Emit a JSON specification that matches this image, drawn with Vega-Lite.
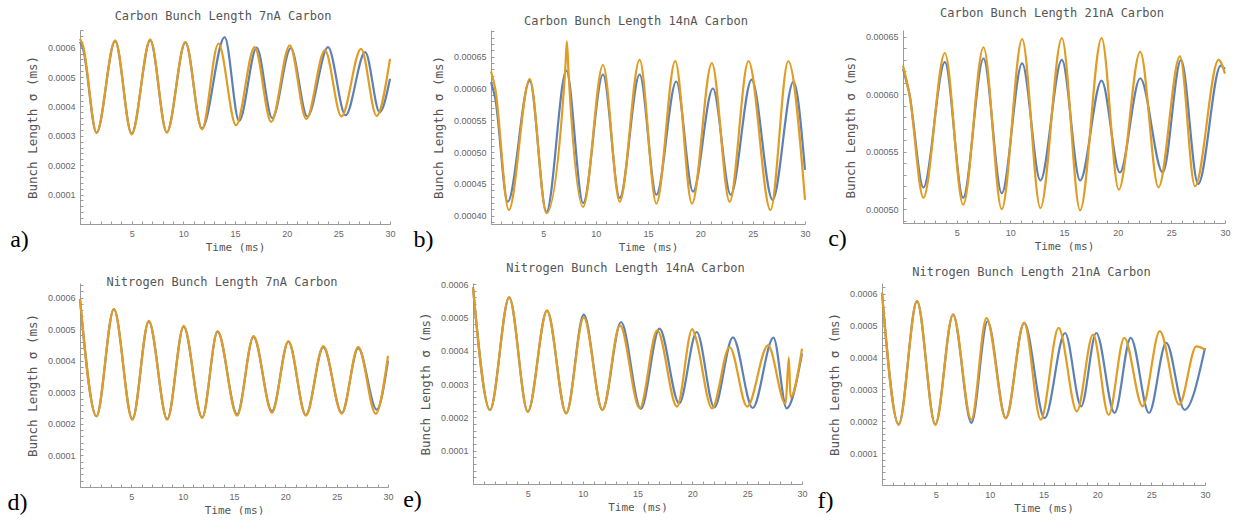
{
  "$schema": "https://vega.github.io/schema/vega-lite/v6.json",
  "background": "white",
  "padding": {"left": 7, "top": 7, "right": 0, "bottom": 0},
  "spacing": 10,
  "datasets": {
    "a": [
      {"t":0,"v":0.00062,"s":"S1"},{"t":0.3,"v":0.000595,"s":"S1"},{"t":1.6,"v":0.00031,"s":"S1"},{"t":3.4,"v":0.000622,"s":"S1"},{"t":5.0,"v":0.000308,"s":"S1"},{"t":6.8,"v":0.000625,"s":"S1"},{"t":8.4,"v":0.000312,"s":"S1"},{"t":10.2,"v":0.000618,"s":"S1"},{"t":11.8,"v":0.000325,"s":"S1"},{"t":14.0,"v":0.000636,"s":"S1"},{"t":15.4,"v":0.00035,"s":"S1"},{"t":17.1,"v":0.0006,"s":"S1"},{"t":18.6,"v":0.00036,"s":"S1"},{"t":20.4,"v":0.000598,"s":"S1"},{"t":22.0,"v":0.000365,"s":"S1"},{"t":24.0,"v":0.000602,"s":"S1"},{"t":25.7,"v":0.00037,"s":"S1"},{"t":27.6,"v":0.000585,"s":"S1"},{"t":29.0,"v":0.00038,"s":"S1"},{"t":30,"v":0.000494,"s":"S1"},
      {"t":0,"v":0.00063,"s":"S2"},{"t":0.3,"v":0.000605,"s":"S2"},{"t":1.6,"v":0.000311,"s":"S2"},{"t":3.4,"v":0.000625,"s":"S2"},{"t":5.0,"v":0.000305,"s":"S2"},{"t":6.8,"v":0.000628,"s":"S2"},{"t":8.4,"v":0.000311,"s":"S2"},{"t":10.2,"v":0.00062,"s":"S2"},{"t":11.8,"v":0.000322,"s":"S2"},{"t":13.4,"v":0.000614,"s":"S2"},{"t":15.1,"v":0.000336,"s":"S2"},{"t":16.9,"v":0.000602,"s":"S2"},{"t":18.5,"v":0.000347,"s":"S2"},{"t":20.3,"v":0.000608,"s":"S2"},{"t":21.9,"v":0.000357,"s":"S2"},{"t":23.7,"v":0.000591,"s":"S2"},{"t":25.3,"v":0.000366,"s":"S2"},{"t":27.2,"v":0.000596,"s":"S2"},{"t":28.7,"v":0.000368,"s":"S2"},{"t":30,"v":0.000562,"s":"S2"}
    ],
    "b": [
      {"t":0,"v":0.00061,"s":"S1"},{"t":0.4,"v":0.000585,"s":"S1"},{"t":1.6,"v":0.000422,"s":"S1"},{"t":3.7,"v":0.000612,"s":"S1"},{"t":5.3,"v":0.000406,"s":"S1"},{"t":7.2,"v":0.000628,"s":"S1"},{"t":8.8,"v":0.00042,"s":"S1"},{"t":10.7,"v":0.000622,"s":"S1"},{"t":12.3,"v":0.000428,"s":"S1"},{"t":14.2,"v":0.000622,"s":"S1"},{"t":15.8,"v":0.000433,"s":"S1"},{"t":17.7,"v":0.000611,"s":"S1"},{"t":19.3,"v":0.000438,"s":"S1"},{"t":21.2,"v":0.0006,"s":"S1"},{"t":22.9,"v":0.000433,"s":"S1"},{"t":24.9,"v":0.000614,"s":"S1"},{"t":26.9,"v":0.000425,"s":"S1"},{"t":28.9,"v":0.000611,"s":"S1"},{"t":30,"v":0.000472,"s":"S1"},
      {"t":0,"v":0.000627,"s":"S2"},{"t":0.4,"v":0.0006,"s":"S2"},{"t":1.7,"v":0.000409,"s":"S2"},{"t":3.7,"v":0.000615,"s":"S2"},{"t":5.3,"v":0.000404,"s":"S2"},{"t":7.1,"v":0.000632,"s":"S2"},{"t":7.25,"v":0.000674,"s":"S2"},{"t":7.4,"v":0.000628,"s":"S2"},{"t":8.8,"v":0.000414,"s":"S2"},{"t":10.7,"v":0.000637,"s":"S2"},{"t":12.3,"v":0.000422,"s":"S2"},{"t":14.2,"v":0.000645,"s":"S2"},{"t":15.8,"v":0.000419,"s":"S2"},{"t":17.6,"v":0.000643,"s":"S2"},{"t":19.2,"v":0.000419,"s":"S2"},{"t":21.1,"v":0.00064,"s":"S2"},{"t":22.8,"v":0.000422,"s":"S2"},{"t":24.6,"v":0.000643,"s":"S2"},{"t":26.7,"v":0.000409,"s":"S2"},{"t":28.4,"v":0.000643,"s":"S2"},{"t":30,"v":0.000425,"s":"S2"}
    ],
    "c": [
      {"t":0,"v":0.000622,"s":"S1"},{"t":0.6,"v":0.0006,"s":"S1"},{"t":1.9,"v":0.000519,"s":"S1"},{"t":3.9,"v":0.000628,"s":"S1"},{"t":5.6,"v":0.00051,"s":"S1"},{"t":7.5,"v":0.000631,"s":"S1"},{"t":9.2,"v":0.000514,"s":"S1"},{"t":11.1,"v":0.000627,"s":"S1"},{"t":12.8,"v":0.000525,"s":"S1"},{"t":14.8,"v":0.00063,"s":"S1"},{"t":16.5,"v":0.000525,"s":"S1"},{"t":18.5,"v":0.000612,"s":"S1"},{"t":20.2,"v":0.000532,"s":"S1"},{"t":22.1,"v":0.000614,"s":"S1"},{"t":24.2,"v":0.000532,"s":"S1"},{"t":25.9,"v":0.00063,"s":"S1"},{"t":27.5,"v":0.000522,"s":"S1"},{"t":29.6,"v":0.000625,"s":"S1"},{"t":30,"v":0.000622,"s":"S1"},
      {"t":0,"v":0.000625,"s":"S2"},{"t":0.6,"v":0.0006,"s":"S2"},{"t":1.9,"v":0.00051,"s":"S2"},{"t":3.9,"v":0.000636,"s":"S2"},{"t":5.6,"v":0.000504,"s":"S2"},{"t":7.5,"v":0.000641,"s":"S2"},{"t":9.2,"v":0.0005,"s":"S2"},{"t":11.1,"v":0.000648,"s":"S2"},{"t":12.8,"v":0.000501,"s":"S2"},{"t":14.8,"v":0.000649,"s":"S2"},{"t":16.5,"v":0.000499,"s":"S2"},{"t":18.5,"v":0.000649,"s":"S2"},{"t":20.1,"v":0.000517,"s":"S2"},{"t":22.1,"v":0.000637,"s":"S2"},{"t":23.8,"v":0.000519,"s":"S2"},{"t":25.8,"v":0.000633,"s":"S2"},{"t":27.2,"v":0.00052,"s":"S2"},{"t":29.4,"v":0.00063,"s":"S2"},{"t":30,"v":0.000618,"s":"S2"}
    ],
    "d": [
      {"t":0,"v":0.000595,"s":"S1"},{"t":1.6,"v":0.000224,"s":"S1"},{"t":3.3,"v":0.000563,"s":"S1"},{"t":5.1,"v":0.000215,"s":"S1"},{"t":6.7,"v":0.000524,"s":"S1"},{"t":8.5,"v":0.000215,"s":"S1"},{"t":10.1,"v":0.000508,"s":"S1"},{"t":11.9,"v":0.00022,"s":"S1"},{"t":13.4,"v":0.000492,"s":"S1"},{"t":15.3,"v":0.00023,"s":"S1"},{"t":16.9,"v":0.000475,"s":"S1"},{"t":18.7,"v":0.00024,"s":"S1"},{"t":20.3,"v":0.00046,"s":"S1"},{"t":22.0,"v":0.000228,"s":"S1"},{"t":23.7,"v":0.000443,"s":"S1"},{"t":25.5,"v":0.000235,"s":"S1"},{"t":27.1,"v":0.00044,"s":"S1"},{"t":28.9,"v":0.000245,"s":"S1"},{"t":30,"v":0.0004,"s":"S1"},
      {"t":0,"v":0.000595,"s":"S2"},{"t":1.6,"v":0.000224,"s":"S2"},{"t":3.3,"v":0.000563,"s":"S2"},{"t":5.1,"v":0.000213,"s":"S2"},{"t":6.7,"v":0.000526,"s":"S2"},{"t":8.5,"v":0.000213,"s":"S2"},{"t":10.1,"v":0.00051,"s":"S2"},{"t":11.9,"v":0.000219,"s":"S2"},{"t":13.4,"v":0.000494,"s":"S2"},{"t":15.3,"v":0.000226,"s":"S2"},{"t":16.9,"v":0.000478,"s":"S2"},{"t":18.7,"v":0.000235,"s":"S2"},{"t":20.3,"v":0.000462,"s":"S2"},{"t":22.0,"v":0.000226,"s":"S2"},{"t":23.7,"v":0.000446,"s":"S2"},{"t":25.5,"v":0.000232,"s":"S2"},{"t":27.1,"v":0.000444,"s":"S2"},{"t":28.8,"v":0.000232,"s":"S2"},{"t":30,"v":0.000415,"s":"S2"}
    ],
    "e": [
      {"t":0,"v":0.00059,"s":"S1"},{"t":1.55,"v":0.000222,"s":"S1"},{"t":3.3,"v":0.00056,"s":"S1"},{"t":5.0,"v":0.000217,"s":"S1"},{"t":6.75,"v":0.00052,"s":"S1"},{"t":8.5,"v":0.000212,"s":"S1"},{"t":10.1,"v":0.000508,"s":"S1"},{"t":11.8,"v":0.000222,"s":"S1"},{"t":13.5,"v":0.000486,"s":"S1"},{"t":15.3,"v":0.000225,"s":"S1"},{"t":17.0,"v":0.000466,"s":"S1"},{"t":18.8,"v":0.000242,"s":"S1"},{"t":20.4,"v":0.000456,"s":"S1"},{"t":22.0,"v":0.00023,"s":"S1"},{"t":23.7,"v":0.00044,"s":"S1"},{"t":25.5,"v":0.000228,"s":"S1"},{"t":27.4,"v":0.000439,"s":"S1"},{"t":28.6,"v":0.000227,"s":"S1"},{"t":30,"v":0.000391,"s":"S1"},
      {"t":0,"v":0.00059,"s":"S2"},{"t":1.55,"v":0.000222,"s":"S2"},{"t":3.3,"v":0.00056,"s":"S2"},{"t":5.0,"v":0.000217,"s":"S2"},{"t":6.75,"v":0.00052,"s":"S2"},{"t":8.5,"v":0.000212,"s":"S2"},{"t":10.1,"v":0.0005,"s":"S2"},{"t":11.8,"v":0.000222,"s":"S2"},{"t":13.4,"v":0.000476,"s":"S2"},{"t":15.2,"v":0.000227,"s":"S2"},{"t":16.8,"v":0.000461,"s":"S2"},{"t":18.6,"v":0.000232,"s":"S2"},{"t":20.0,"v":0.000465,"s":"S2"},{"t":20.3,"v":0.00044,"s":"S2"},{"t":21.8,"v":0.000227,"s":"S2"},{"t":23.4,"v":0.000411,"s":"S2"},{"t":25.0,"v":0.000232,"s":"S2"},{"t":26.9,"v":0.000416,"s":"S2"},{"t":28.5,"v":0.00024,"s":"S2"},{"t":28.8,"v":0.00038,"s":"S2"},{"t":28.95,"v":0.00026,"s":"S2"},{"t":30,"v":0.000406,"s":"S2"}
    ],
    "f": [
      {"t":0,"v":0.000603,"s":"S1"},{"t":1.55,"v":0.00019,"s":"S1"},{"t":3.25,"v":0.000577,"s":"S1"},{"t":4.95,"v":0.00019,"s":"S1"},{"t":6.6,"v":0.000535,"s":"S1"},{"t":8.3,"v":0.000195,"s":"S1"},{"t":9.8,"v":0.000514,"s":"S1"},{"t":11.5,"v":0.00021,"s":"S1"},{"t":13.2,"v":0.000509,"s":"S1"},{"t":15.1,"v":0.00021,"s":"S1"},{"t":17.0,"v":0.000477,"s":"S1"},{"t":18.5,"v":0.000247,"s":"S1"},{"t":19.9,"v":0.000477,"s":"S1"},{"t":21.6,"v":0.000226,"s":"S1"},{"t":23.1,"v":0.000462,"s":"S1"},{"t":24.8,"v":0.000226,"s":"S1"},{"t":26.4,"v":0.000446,"s":"S1"},{"t":28.1,"v":0.000236,"s":"S1"},{"t":30,"v":0.00043,"s":"S1"},
      {"t":0,"v":0.000603,"s":"S2"},{"t":1.55,"v":0.000189,"s":"S2"},{"t":3.25,"v":0.000577,"s":"S2"},{"t":4.95,"v":0.000189,"s":"S2"},{"t":6.6,"v":0.000535,"s":"S2"},{"t":8.3,"v":0.000205,"s":"S2"},{"t":9.7,"v":0.000524,"s":"S2"},{"t":11.5,"v":0.00021,"s":"S2"},{"t":13.2,"v":0.000509,"s":"S2"},{"t":14.75,"v":0.000205,"s":"S2"},{"t":16.4,"v":0.000493,"s":"S2"},{"t":18.1,"v":0.000231,"s":"S2"},{"t":19.6,"v":0.000472,"s":"S2"},{"t":21.05,"v":0.00022,"s":"S2"},{"t":22.5,"v":0.000462,"s":"S2"},{"t":24.2,"v":0.000247,"s":"S2"},{"t":25.8,"v":0.000483,"s":"S2"},{"t":27.6,"v":0.000252,"s":"S2"},{"t":29.2,"v":0.000435,"s":"S2"},{"t":30,"v":0.000425,"s":"S2"}
    ]
  },
  "vconcat": [
    {
      "spacing": 17,
      "hconcat": [
        {
          "title": {"text": "a)", "orient": "left", "anchor": "start", "angle": 0, "align": "right", "baseline": "bottom", "offset": -21, "font": "Liberation Serif", "fontSize": 24, "color": "#000000"},
          "vconcat": [{
            "title": {"text": "Carbon Bunch Length 7nA Carbon", "offset": 3, "dx": -12},
            "width": 310, "height": 194,
            "data": {"name": "a"},
            "mark": {"type": "line", "interpolate": "monotone", "strokeWidth": 2.2},
            "encoding": {
              "x": {"field": "t", "type": "quantitative", "scale": {"domain": [0, 30], "nice": false}, "axis": {"title": "Time (ms)", "tickCount": 30, "labelExpr": "datum.value % 5 === 0 && datum.value > 0 ? format(datum.value, 'd') : ''"}},
              "y": {"field": "v", "type": "quantitative", "scale": {"domain": [0, 0.00066], "nice": false, "zero": false}, "axis": {"title": "Bunch Length σ (ms)", "tickCount": 30, "labelExpr": "datum.value > 0 && round(datum.value * 100000) % 10 === 0 ? format(datum.value, '.4f') : ''"}},
              "color": {"field": "s", "type": "nominal", "scale": {"domain": ["S1", "S2"], "range": ["#5E81B5", "#E19C24"]}, "legend": null}
            }
          }]
        },
        {
          "title": {"text": "b)", "orient": "left", "anchor": "start", "angle": 0, "align": "right", "baseline": "bottom", "offset": -21, "font": "Liberation Serif", "fontSize": 24, "color": "#000000"},
          "vconcat": [{
            "title": {"text": "Carbon Bunch Length 14nA Carbon", "offset": -1, "dx": -12},
            "width": 314, "height": 194,
            "data": {"name": "b"},
            "mark": {"type": "line", "interpolate": "monotone", "strokeWidth": 2.2},
            "encoding": {
              "x": {"field": "t", "type": "quantitative", "scale": {"domain": [0, 30], "nice": false}, "axis": {"title": "Time (ms)", "tickCount": 30, "labelExpr": "datum.value % 5 === 0 && datum.value > 0 ? format(datum.value, 'd') : ''"}},
              "y": {"field": "v", "type": "quantitative", "scale": {"domain": [0.000387, 0.000692], "nice": false, "zero": false}, "axis": {"title": "Bunch Length σ (ms)", "tickCount": 30, "labelExpr": "round(datum.value * 100000) % 5 === 0 ? format(datum.value, '.5f') : ''"}},
              "color": {"field": "s", "type": "nominal", "scale": {"domain": ["S1", "S2"], "range": ["#5E81B5", "#E19C24"]}, "legend": null}
            }
          }]
        },
        {
          "title": {"text": "c)", "orient": "left", "anchor": "start", "angle": 0, "align": "right", "baseline": "bottom", "offset": -21, "font": "Liberation Serif", "fontSize": 24, "color": "#000000"},
          "vconcat": [{
            "title": {"text": "Carbon Bunch Length 21nA Carbon", "offset": 10, "dx": -12},
            "width": 322, "height": 193,
            "data": {"name": "c"},
            "mark": {"type": "line", "interpolate": "monotone", "strokeWidth": 2.2},
            "encoding": {
              "x": {"field": "t", "type": "quantitative", "scale": {"domain": [0, 30], "nice": false}, "axis": {"title": "Time (ms)", "tickCount": 30, "labelExpr": "datum.value % 5 === 0 && datum.value > 0 ? format(datum.value, 'd') : ''"}},
              "y": {"field": "v", "type": "quantitative", "scale": {"domain": [0.000488, 0.000656], "nice": false, "zero": false}, "axis": {"title": "Bunch Length σ (ms)", "tickCount": 17, "labelExpr": "round(datum.value * 100000) % 5 === 0 ? format(datum.value, '.5f') : ''"}},
              "color": {"field": "s", "type": "nominal", "scale": {"domain": ["S1", "S2"], "range": ["#5E81B5", "#E19C24"]}, "legend": null}
            }
          }]
        }
      ]
    },
    {
      "spacing": 9,
      "hconcat": [
        {
          "title": {"text": "d)", "orient": "left", "anchor": "start", "angle": 0, "align": "right", "baseline": "bottom", "offset": -21, "font": "Liberation Serif", "fontSize": 24, "color": "#000000"},
          "vconcat": [{
            "title": {"text": "Nitrogen Bunch Length 7nA Carbon", "offset": -8, "dx": -12},
            "width": 308, "height": 204,
            "data": {"name": "d"},
            "mark": {"type": "line", "interpolate": "monotone", "strokeWidth": 2.2},
            "encoding": {
              "x": {"field": "t", "type": "quantitative", "scale": {"domain": [0, 30], "nice": false}, "axis": {"title": "Time (ms)", "tickCount": 30, "labelExpr": "datum.value % 5 === 0 && datum.value > 0 ? format(datum.value, 'd') : ''"}},
              "y": {"field": "v", "type": "quantitative", "scale": {"domain": [0, 0.000646], "nice": false, "zero": false}, "axis": {"title": "Bunch Length σ (ms)", "tickCount": 30, "labelExpr": "datum.value > 0 && round(datum.value * 100000) % 10 === 0 ? format(datum.value, '.4f') : ''"}},
              "color": {"field": "s", "type": "nominal", "scale": {"domain": ["S1", "S2"], "range": ["#5E81B5", "#E19C24"]}, "legend": null}
            }
          }]
        },
        {
          "title": {"text": "e)", "orient": "left", "anchor": "start", "angle": 0, "align": "right", "baseline": "bottom", "offset": -21, "font": "Liberation Serif", "fontSize": 24, "color": "#000000"},
          "vconcat": [{
            "title": {"text": "Nitrogen Bunch Length 14nA Carbon", "offset": 5, "dx": -12},
            "width": 329, "height": 201,
            "data": {"name": "e"},
            "mark": {"type": "line", "interpolate": "monotone", "strokeWidth": 2.2},
            "encoding": {
              "x": {"field": "t", "type": "quantitative", "scale": {"domain": [0, 30], "nice": false}, "axis": {"title": "Time (ms)", "tickCount": 30, "labelExpr": "datum.value % 5 === 0 && datum.value > 0 ? format(datum.value, 'd') : ''"}},
              "y": {"field": "v", "type": "quantitative", "scale": {"domain": [0, 0.000603], "nice": false, "zero": false}, "axis": {"title": "Bunch Length σ (ms)", "tickCount": 30, "labelExpr": "datum.value > 0 && round(datum.value * 100000) % 10 === 0 ? format(datum.value, '.4f') : ''"}},
              "color": {"field": "s", "type": "nominal", "scale": {"domain": ["S1", "S2"], "range": ["#5E81B5", "#E19C24"]}, "legend": null}
            }
          }]
        },
        {
          "title": {"text": "f)", "orient": "left", "anchor": "start", "angle": 0, "align": "right", "baseline": "bottom", "offset": -21, "font": "Liberation Serif", "fontSize": 24, "color": "#000000"},
          "vconcat": [{
            "title": {"text": "Nitrogen Bunch Length 21nA Carbon", "offset": 4, "dx": -12},
            "width": 323, "height": 202,
            "data": {"name": "f"},
            "mark": {"type": "line", "interpolate": "monotone", "strokeWidth": 2.2},
            "encoding": {
              "x": {"field": "t", "type": "quantitative", "scale": {"domain": [0, 30], "nice": false}, "axis": {"title": "Time (ms)", "tickCount": 30, "labelExpr": "datum.value % 5 === 0 && datum.value > 0 ? format(datum.value, 'd') : ''"}},
              "y": {"field": "v", "type": "quantitative", "scale": {"domain": [0, 0.000634], "nice": false, "zero": false}, "axis": {"title": "Bunch Length σ (ms)", "tickCount": 30, "labelExpr": "datum.value > 0 && round(datum.value * 100000) % 10 === 0 ? format(datum.value, '.4f') : ''"}},
              "color": {"field": "s", "type": "nominal", "scale": {"domain": ["S1", "S2"], "range": ["#5E81B5", "#E19C24"]}, "legend": null}
            }
          }]
        }
      ]
    }
  ],
  "config": {
    "view": {"stroke": null},
    "axis": {
      "grid": false,
      "domainColor": "#9a9a9a",
      "tickColor": "#9a9a9a",
      "tickSize": -3,
      "labelPadding": 8,
      "labelColor": "#666666",
      "labelFont": "Liberation Sans",
      "labelFontSize": 9,
      "labelFlush": false,
      "labelOverlap": false,
      "titleFont": "DejaVu Sans Mono",
      "titleFontWeight": "normal",
      "titleColor": "#555555"
    },
    "axisX": {"titleFontSize": 11, "titlePadding": 3},
    "axisY": {"titleFontSize": 12.5, "titlePadding": 8},
    "title": {"font": "DejaVu Sans Mono", "fontSize": 12, "fontWeight": "normal", "color": "#555555"}
  }
}
